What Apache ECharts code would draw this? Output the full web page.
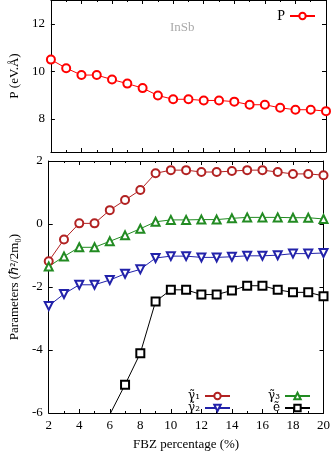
<!DOCTYPE html>
<html>
<head>
<meta charset="utf-8">
<script src="https://cdn.jsdelivr.net/npm/echarts@6/dist/echarts.min.js"></script>
<style>
html,body{margin:0;padding:0;background:#fff;}
#chart{width:333px;height:456px;}
</style>
</head>
<body>
<div id="chart"></div>
<script>
// FBZ percentage
var fbz = [2, 3, 4, 5, 6, 7, 8, 9, 10, 11, 12, 13, 14, 15, 16, 17, 18, 19, 20];
// P (eV.A)
var pVals = [10.49, 10.13, 9.84, 9.84, 9.65, 9.48, 9.29, 8.98, 8.82, 8.82, 8.77, 8.77, 8.72, 8.59, 8.59, 8.46, 8.38, 8.38, 8.32];
// Luttinger-like parameters
var g1 = [-1.18, -0.49, 0.02, 0.02, 0.44, 0.76, 1.08, 1.61, 1.71, 1.71, 1.65, 1.65, 1.68, 1.71, 1.71, 1.65, 1.59, 1.59, 1.55];
var g2 = [-2.6, -2.22, -1.93, -1.93, -1.78, -1.58, -1.44, -1.08, -1.02, -1.02, -1.06, -1.06, -1.04, -1.01, -1.01, -0.99, -0.94, -0.94, -0.92];
var g3 = [-1.35, -1.03, -0.74, -0.74, -0.55, -0.36, -0.15, 0.07, 0.13, 0.13, 0.14, 0.14, 0.18, 0.21, 0.21, 0.21, 0.2, 0.2, 0.16];
var eT = [null, null, null, null, -6.05, -5.1, -4.1, -2.46, -2.09, -2.09, -2.24, -2.24, -2.11, -1.96, -1.96, -2.09, -2.17, -2.17, -2.29];
var yTicksBottom = [-6, -4, -2, 0, 2];

function pairs(vals) {
  return fbz.map(function (x, i) { return [x, vals[i]]; });
}

var font = 'Liberation Serif';
var chart = echarts.init(document.getElementById('chart'));

function xAx(grid, pos, labels) {
  return {
    type: 'value', gridIndex: grid, position: pos, min: 2, max: 20, interval: 2,
    axisLine: {show: true, onZero: false, lineStyle: {color: '#000', width: 1}},
    axisTick: {show: true, inside: true, length: 4, lineStyle: {color: '#000'}},
    minorTick: {show: true, splitNumber: 2, length: 2, lineStyle: {color: '#000'}},
    axisLabel: {show: labels, color: '#000', fontFamily: font, fontSize: 13, margin: 6},
    splitLine: {show: false}
  };
}
function yAx(grid, pos, labels, min, max, interval) {
  var a = {
    type: 'value', gridIndex: grid, position: pos, min: min, max: max,
    axisLine: {show: true, onZero: false, lineStyle: {color: '#000', width: 1}},
    axisTick: {show: true, inside: true, length: 4, lineStyle: {color: '#000'}},
    axisLabel: {show: labels, color: '#000', fontFamily: font, fontSize: 13, margin: 6,
      showMinLabel: interval ? true : false, showMaxLabel: interval ? true : false},
    splitLine: {show: false}
  };
  if (interval) a.interval = interval; else a.splitNumber = 3;
  return a;
}

var xs = [xAx(0, 'bottom', false), xAx(0, 'top', false), xAx(1, 'bottom', true), xAx(1, 'top', false)];
xs[2].name = 'FBZ percentage (%)';
xs[2].nameLocation = 'middle';
xs[2].nameGap = 25;
xs[2].nameTextStyle = {color: '#000', fontFamily: font, fontSize: 13};

var ys = [yAx(0, 'left', true, 6.6, 13), yAx(0, 'right', false, 6.6, 13),
          yAx(1, 'left', true, yTicksBottom[0], yTicksBottom[yTicksBottom.length - 1], 2),
          yAx(1, 'right', false, yTicksBottom[0], yTicksBottom[yTicksBottom.length - 1], 2)];
ys[0].name = 'P (eV.Å)';
ys[2].name = 'Parameters (ℏ²/2m₀)';
[0, 2].forEach(function (k) {
  ys[k].nameLocation = 'middle';
  ys[k].nameGap = 26;
  ys[k].nameTextStyle = {color: '#000', fontFamily: font, fontSize: 13};
});

function line(name, vals, color, symbol, xi, yi, rot) {
  return {
    name: name, type: 'line', xAxisIndex: xi, yAxisIndex: yi,
    data: pairs(vals), symbol: symbol, symbolSize: 8, symbolRotate: rot || 0,
    showAllSymbol: true, connectNulls: false,
    lineStyle: {color: color, width: 1},
    itemStyle: {color: color, borderColor: color, borderWidth: 1},
    emphasis: {disabled: true}, animation: false
  };
}

var legendText = {color: '#000', fontFamily: 'DejaVu Serif', fontSize: 12, lineHeight: 12};
var option = {
  animation: false,
  title: {text: 'InSb', left: 165, top: 16, textStyle: {color: '#aaa', fontFamily: font, fontSize: 13, fontWeight: 'normal'}},
  grid: [
    {left: 39, right: 7, top: 0, height: 152},
    {left: 39, right: 7, top: 161, height: 258}
  ],
  xAxis: xs,
  yAxis: ys,
  legend: [
    {data: ['P'], right: 12, top: 4, align: 'right', itemWidth: 25, itemHeight: 8,
      textStyle: {color: '#000', fontFamily: font, fontSize: 14}},
    {data: ['γ̃₁', 'γ̃₂'], orient: 'vertical', left: 183, top: 385, align: 'right', itemGap: 0, itemWidth: 25, itemHeight: 8, textStyle: legendText},
    {data: ['γ̃₃', 'ẽ'], orient: 'vertical', left: 263, top: 385, align: 'right', itemGap: 0, itemWidth: 25, itemHeight: 8, textStyle: legendText}
  ],
  series: [
    line('P', pVals, '#ff0000', 'emptyCircle', 0, 0),
    line('γ̃₁', g1, '#b22222', 'emptyCircle', 2, 2),
    line('γ̃₂', g2, '#2222aa', 'emptyTriangle', 2, 2, 180),
    line('γ̃₃', g3, '#228b22', 'emptyTriangle', 2, 2),
    line('ẽ', eT, '#000000', 'emptyRect', 2, 2)
  ]
};
chart.setOption(option);
</script>
</body>
</html>
